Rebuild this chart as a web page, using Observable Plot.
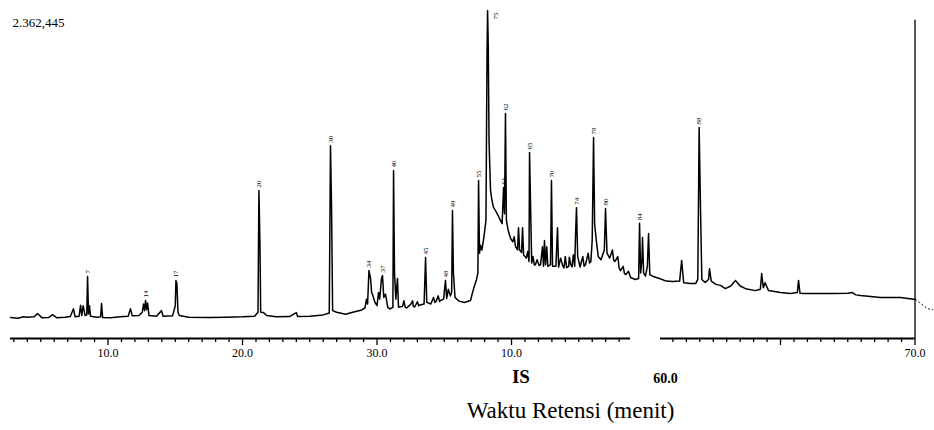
<!DOCTYPE html>
<html>
<head>
<meta charset="utf-8">
<script src="https://cdn.jsdelivr.net/npm/d3@7"></script>
<script src="https://cdn.jsdelivr.net/npm/@observablehq/plot@0.6"></script>
<style>
  html, body { margin: 0; padding: 0; background: #fff; }
  #chart svg { font-family: "Liberation Serif", "DejaVu Serif", serif; }
</style>
</head>
<body>
<div id="chart"></div>
<script>
// Chromatogram: [retention time (min), relative abundance (% of 2.362,445 counts)]
const chromatogram = [
  [2.75,6.4],[3.3,6.2],[3.7,6.6],[4.0,6.5],[4.5,6.6],[4.76,7.6],[5.1,6.3],[5.6,6.4],[5.87,7.3],[6.2,6.3],[6.8,6.5],[7.2,6.7],
  [7.43,9.1],[7.55,6.6],[7.85,6.8],[7.96,10.1],[8.05,7.0],[8.15,10.0],[8.3,7.0],[8.42,7.2],[8.48,18.9],[8.55,7.5],[8.62,10.0],[8.7,6.8],
  [9.2,6.5],[9.45,6.6],[9.52,10.7],[9.6,6.4],[10.2,6.3],[10.9,6.6],[11.5,6.8],[11.67,9.1],[11.8,6.9],[12.3,7.0],[12.55,8.0],[12.64,10.5],
  [12.72,8.5],[12.79,11.6],[12.87,8.8],[12.94,10.8],[13.05,7.0],[13.6,6.8],[13.98,8.5],[14.1,6.8],[14.8,6.9],[15.0,10.0],[15.05,17.7],[15.12,16.8],
  [15.2,8.0],[15.3,7.0],[16.0,6.5],[17.5,6.4],[18.8,6.5],[20.0,6.6],[20.9,6.8],[21.15,8.0],[21.22,45.1],[21.3,28.0],[21.35,8.0],[21.56,7.9],
  [21.8,7.0],[22.5,6.6],[23.5,6.7],[24.0,7.9],[24.1,6.7],[25.0,6.8],[26.0,7.2],[26.45,7.8],[26.54,58.8],[26.62,40.0],[26.7,8.5],[27.0,8.0],
  [27.66,7.4],[28.2,8.0],[28.8,8.6],[29.1,9.3],[29.22,12.0],[29.3,10.5],[29.4,20.7],[29.52,18.3],[29.6,14.0],[29.7,13.0],[29.85,11.0],[30.0,10.0],
  [30.11,14.0],[30.2,12.0],[30.33,18.3],[30.41,19.2],[30.5,12.5],[30.63,13.5],[30.8,9.5],[30.95,9.0],[31.18,9.5],[31.23,51.2],[31.3,20.0],[31.4,12.0],
  [31.52,18.3],[31.6,9.5],[31.9,9.8],[32.0,11.5],[32.1,9.5],[32.2,9.3],[32.5,10.4],[32.65,11.5],[32.7,9.8],[32.8,9.6],[33.0,11.2],[33.1,10.0],
  [33.2,10.2],[33.5,10.5],[33.61,24.7],[33.7,11.0],[34.0,10.5],[34.2,12.5],[34.3,11.0],[34.4,11.4],[34.55,13.0],[34.65,11.3],[34.72,11.6],[34.95,12.0],
  [35.09,17.7],[35.18,12.2],[35.3,15.0],[35.45,13.0],[35.55,14.0],[35.61,39.0],[35.68,20.0],[35.8,12.5],[36.1,11.4],[36.5,11.0],[36.95,11.6],[37.2,15.5],
  [37.4,18.0],[37.5,20.0],[37.55,48.2],[37.62,26.0],[37.7,28.4],[37.8,27.0],[37.95,31.0],[38.1,36.0],[38.18,86.9],[38.22,100],[38.27,89.3],[38.33,60.0],
  [38.44,45.1],[38.55,42.0],[38.66,40.0],[38.81,39.0],[39.0,37.5],[39.18,36.0],[39.3,35.0],[39.41,46.0],[39.48,38.0],[39.55,68.6],[39.62,36.0],[39.75,33.0],
  [39.93,30.5],[40.1,29.5],[40.2,31.0],[40.3,28.0],[40.45,27.0],[40.52,33.8],[40.6,27.0],[40.75,26.2],[40.82,33.8],[40.9,25.5],[41.1,24.5],[41.2,26.5],
  [41.3,23.5],[41.34,56.7],[41.42,40.0],[41.5,23.0],[41.6,25.0],[41.7,22.4],[41.78,22.5],[41.9,24.0],[42.05,22.3],[42.16,22.5],[42.3,28.0],[42.38,22.0],
  [42.45,29.9],[42.53,22.5],[42.62,28.0],[42.7,22.0],[42.9,22.5],[42.97,48.2],[43.05,22.0],[43.3,22.0],[43.42,33.8],[43.5,21.8],[43.65,24.5],[43.8,22.3],
  [43.9,21.5],[44.0,25.0],[44.1,21.6],[44.25,22.0],[44.3,24.8],[44.4,22.6],[44.5,21.8],[44.6,25.5],[44.7,22.0],[44.75,30.0],[44.83,39.9],[44.92,25.0],
  [45.1,21.8],[45.3,25.0],[45.4,22.0],[45.5,22.5],[45.7,26.0],[45.8,23.0],[45.9,23.5],[46.0,30.0],[46.1,61.3],[46.18,35.0],[46.3,30.0],[46.45,25.0],
  [46.65,24.0],[46.9,27.0],[46.99,39.6],[47.1,26.0],[47.3,24.5],[47.5,27.0],[47.6,23.8],[47.7,23.5],[47.9,25.0],[48.0,21.5],[48.1,20.7],[48.3,22.0],
  [48.4,19.8],[48.5,19.5],[48.7,20.5],[48.85,18.6],[49.2,18.0],[49.45,18.3],[49.52,35.1],[49.6,20.0],[49.7,24.0],[49.74,30.8],[49.82,20.0],[49.96,19.0],
  [50.1,22.0],[50.19,32.0],[50.28,19.5],[50.6,18.8],[51.0,18.3],[51.5,17.5],[52.0,17.4],[52.5,17.5],[52.65,23.8],[52.8,17.0],[53.3,16.8],[53.7,16.8],
  [53.85,18.0],[53.95,64.3],[54.05,40.0],[54.15,18.0],[54.4,17.1],[54.65,18.0],[54.72,21.3],[54.85,17.5],[55.2,16.5],[55.54,16.2],[55.9,15.2],[56.3,16.0],
  [56.65,17.7],[57.0,16.0],[57.4,15.2],[58.14,14.6],[58.5,15.0],[58.6,19.8],[58.72,15.5],[58.85,17.0],[59.11,14.6],[60.0,14.0],[60.74,13.7],[61.25,14.0],
  [61.34,17.7],[61.45,13.8],[61.86,13.7],[63.72,13.7],[65.0,13.8],[65.35,14.0],[65.6,13.3],[65.95,13.1],[67.43,12.5],[68.92,12.5],[70.04,11.9]
];
// faint dotted tail after the end line
const tailTime = [70.04, 70.41, 70.93, 71.3];
const tailAbundance = [11.9, 10.7, 9.1, 8.8];

// peak labels (tiny, rotated)
const peakTime  = [8.48, 12.79, 15.05, 21.22, 26.54, 29.4, 30.41, 31.23, 33.61, 35.09, 35.61, 37.55, 39.41, 39.55, 41.34, 42.97, 44.83, 46.1, 46.99, 49.52, 53.95];
const peakValue = [18.9, 11.6, 17.7, 45.1, 58.8, 20.7, 19.2, 51.2, 24.7, 17.7, 39.0, 48.2, 46.0, 68.6, 56.7, 48.2, 39.9, 61.3, 39.6, 35.1, 64.3];
const peakText  = ["7", "14", "17", "20", "30", "34", "37", "40", "45", "48", "49", "55", "61", "62", "65", "70", "74", "78", "80", "84", "88"];
const topPeakTime = [38.22], topPeakValue = [100], topPeakText = ["75"];

// axis
const axisStart = [2.75, 51.08];
const axisEnd   = [48.85, 70.0];
const minorTicks = [3,4,5,6,7,8,9,11,12,13,14,15,16,17,18,19,21,22,23,24,25,26,27,28,29,31,32,33,34,35,36,37,38,39,41,42,43,44,45,46,47,48,52,53,54,55,56,57,58,59,61,62,63,64,65,66,67,68,69];
const majorTicks = [10, 20, 30, 40, 60, 70];
const majorLabels = ["10.0", "20.0", "30.0", "10.0", "", "70.0"];
const endLineTime = [70.0], endLineTop = [97];

const yMaxLabel = "2.362,445";
const xTitle = "Waktu Retensi (menit)";
const extraLabels = ["IS", "60.0"];
const extraLabelTime = [40.7, 51.45];

const trace = d3.sort(chromatogram.map(([t, v]) => ({t, v})), d => d.t);
const tail = tailTime.map((t, i) => ({t, v: tailAbundance[i]}));
const peaks = peakTime.map((t, i) => ({t, v: peakValue[i], s: peakText[i]}));
const topPeak = topPeakTime.map((t, i) => ({t, v: topPeakValue[i], s: topPeakText[i]}));
const segs = axisStart.map((a, i) => ({a, b: axisEnd[i]}));
const endLine = endLineTime.map((t, i) => ({t, top: endLineTop[i]}));
const labelMap = new Map(majorTicks.map((d, i) => [d, majorLabels[i]]));

const chart = Plot.plot({
  width: 934,
  height: 430,
  marginLeft: 10,
  marginRight: 2,
  marginTop: 10,
  marginBottom: 92,
  x: {domain: [2.75, 71.3]},
  y: {domain: [0, 100], axis: null},
  marks: [
    Plot.axisX({ticks: minorTicks, tickSize: 4, tickFormat: () => "", stroke: "#000", strokeWidth: 1.3, label: null}),
    Plot.axisX({ticks: majorTicks, tickSize: 7, tickPadding: 3, tickFormat: d => labelMap.get(d), stroke: "#000", strokeWidth: 1.3, fontSize: 12, fill: "#000", label: null}),
    Plot.ruleY(segs, {y: 0, x1: "a", x2: "b", stroke: "#000", strokeWidth: 2}),
    Plot.ruleX(endLine, {x: "t", y1: 0, y2: "top", stroke: "#000", strokeWidth: 1.3}),
    Plot.line(trace, {x: "t", y: "v", stroke: "#000", strokeWidth: 1.5, curve: "linear"}),
    Plot.line(tail, {x: "t", y: "v", stroke: "#000", strokeWidth: 1, strokeDasharray: "1,3"}),
    Plot.text(peaks, {x: "t", y: "v", text: "s", rotate: -90, textAnchor: "start", dy: -3, fontSize: 7, fill: "#000"}),
    Plot.text(topPeak, {x: "t", y: "v", text: "s", rotate: -90, textAnchor: "end", dx: 8, dy: 2, fontSize: 7, fill: "#000"}),
    Plot.text([yMaxLabel], {frameAnchor: "top-left", dx: 2, dy: 7, textAnchor: "start", fontSize: 13, fill: "#000"}),
    Plot.text(extraLabels.slice(0, 1), {x: () => extraLabelTime[0], y: () => 0, dy: 38, fontSize: 19, fontWeight: "bold", fill: "#000"}),
    Plot.text(extraLabels.slice(1), {x: () => extraLabelTime[1], y: () => 0, dy: 40, fontSize: 14, fontWeight: "bold", fill: "#000"}),
    Plot.text([xTitle], {frameAnchor: "bottom", dx: 99, dy: 79, fontSize: 23, fill: "#000"})
  ]
});
document.getElementById("chart").appendChild(chart);
</script>
</body>
</html>
